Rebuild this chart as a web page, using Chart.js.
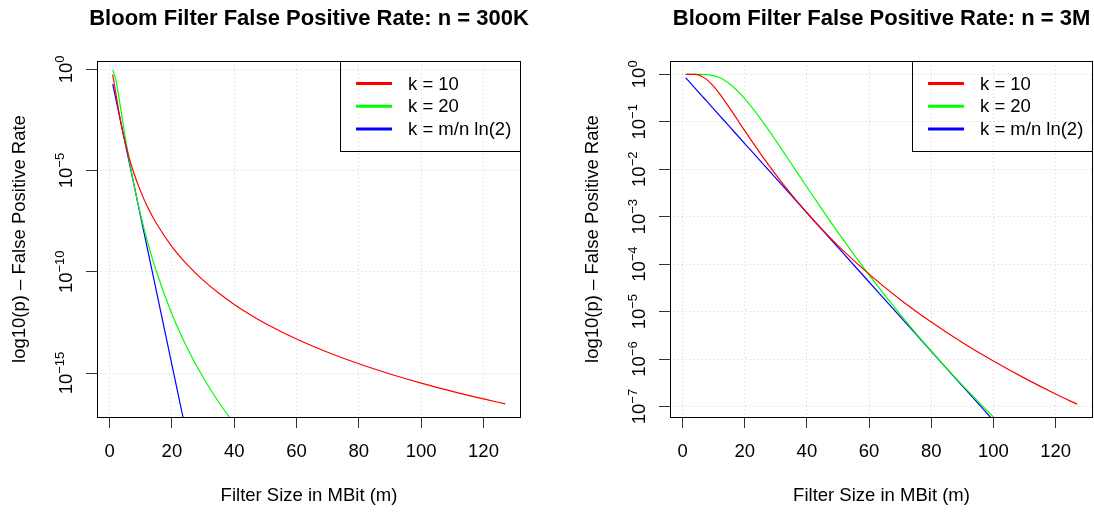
<!DOCTYPE html>
<html>
<head>
<meta charset="utf-8">
<script src="https://cdn.jsdelivr.net/npm/chart.js@4.4.1/dist/chart.umd.min.js"></script>
<style>
html, body { margin: 0; padding: 0; background: #fff; }
#wrap { position: relative; width: 1094px; height: 512px; }
canvas { position: absolute; top: 0; }
#left { left: 0; }
#right { left: 547px; }
</style>
</head>
<body>
<div id="wrap">
  <canvas id="left" width="547" height="512"></canvas>
  <canvas id="right" width="547" height="512"></canvas>
</div>
<script>
// filter size in MBit (m)
var sizes = [1, 2, 3, 4, 5, 6, 8, 10, 12, 15, 20, 25, 30, 35, 40, 45, 50, 60, 70, 80, 90, 100, 110, 120, 127];

// log10(p) for n = 300K
var k10Small  = [-0.256, -1.187, -2.113, -2.917, -3.609, -4.210, -5.219, -6.040, -6.735, -7.603, -8.752, -9.660, -10.412, -11.051, -11.610, -12.104, -12.548, -13.319, -13.974, -14.543, -15.046, -15.497, -15.906, -16.278, -16.521];
var k20Small  = [-0.029, -0.512, -1.396, -2.375, -3.330, -4.226, -5.834, -7.218, -8.420, -9.974, -12.080, -13.782, -15.206, -16.430, -17.504, null, null, null, null, null, null, null, null, null, null];
var kOptSmall = [-0.729, -1.459, -2.188, -2.917, -3.647, -4.376, -5.835, -7.294, -8.752, -10.940, -14.587, -18.234, null, null, null, null, null, null, null, null, null, null, null, null, null];

// log10(p) for n = 3M
var k10Big  = [0, 0, -0.0003, -0.003, -0.014, -0.037, -0.123, -0.256, -0.420, -0.698, -1.187, -1.665, -2.113, -2.530, -2.917, -3.275, -3.609, -4.210, -4.743, -5.219, -5.650, -6.040, -6.401, -6.735, -6.953];
var k20Big  = [0, 0, 0, 0, -0.0001, -0.0006, -0.0068, -0.0285, -0.074, -0.194, -0.512, -0.929, -1.396, -1.884, -2.375, -2.858, -3.330, -4.226, -5.060, -5.834, -6.550, -7.218, -7.839, null, null];
var kOptBig = [-0.073, -0.146, -0.219, -0.292, -0.365, -0.438, -0.583, -0.729, -0.875, -1.094, -1.459, -1.823, -2.188, -2.553, -2.917, -3.282, -3.647, -4.376, -5.105, -5.835, -6.564, -7.294, null, null, null];

var xTicks = [0, 20, 40, 60, 80, 100, 120];
var yTicksSmall = [0, -5, -10, -15];
var yTicksBig = [0, -1, -2, -3, -4, -5, -6, -7];
var seriesNames = ['k = 10', 'k = 20', 'k = m/n ln(2)'];
var seriesColors = ['#ff0000', '#00ff00', '#0000ff'];

var FONT = '"Liberation Sans", Arial, Helvetica, sans-serif';
Chart.defaults.font.family = FONT;
Chart.defaults.color = '#000';

// R style decorations: box, titles, tick labels, legend
var rDecor = {
    id: 'rDecor',
    afterDraw: function (chart) {
        var o = chart.options.plugins.rDecor;
        var ctx = chart.ctx;
        var a = chart.chartArea;
        var xs = chart.scales.x;
        var ys = chart.scales.y;
        var cx = (a.left + a.right) / 2;
        ctx.save();
        ctx.fillStyle = '#000';
        ctx.strokeStyle = '#000';
        ctx.lineWidth = 1;

        // plot box
        ctx.strokeRect(Math.round(a.left) + 0.5, Math.round(a.top) + 0.5,
            Math.round(a.right - a.left) - 1, Math.round(a.bottom - a.top));

        // main title
        ctx.font = 'bold 22px ' + FONT;
        ctx.textAlign = 'center';
        ctx.textBaseline = 'alphabetic';
        ctx.fillText(o.title, cx, 25);

        // x title
        ctx.font = '18.5px ' + FONT;
        ctx.fillText('Filter Size in MBit (m)', cx, 501);

        // x tick labels
        ctx.textBaseline = 'middle';
        xs.ticks.forEach(function (t) {
            ctx.fillText(String(t.value), xs.getPixelForValue(t.value), 452);
        });
        ctx.textBaseline = 'alphabetic';

        // y title
        ctx.save();
        ctx.translate(a.left - 72, (a.top + a.bottom) / 2);
        ctx.rotate(-Math.PI / 2);
        ctx.fillText('log10(p) \u2013 False Positive Rate', 0, 0);
        ctx.restore();

        // y tick labels 10^x
        ys.ticks.forEach(function (t) {
            var y = ys.getPixelForValue(t.value);
            var exp = t.value === 0 ? '0' : '\u2212' + Math.abs(t.value);
            ctx.font = '18.5px ' + FONT;
            var w1 = ctx.measureText('10').width;
            ctx.font = '13px ' + FONT;
            var w2 = ctx.measureText(exp).width;
            ctx.save();
            ctx.translate(a.left - 25, y);
            ctx.rotate(-Math.PI / 2);
            ctx.textAlign = 'left';
            var x0 = -(w1 + w2) / 2;
            ctx.font = '18.5px ' + FONT;
            ctx.fillText('10', x0, 0);
            ctx.font = '13px ' + FONT;
            ctx.fillText(exp, x0 + w1, -8.5);
            ctx.restore();
        });

        // legend
        var bx = Math.round(a.right - 181) + 0.5;
        var by = Math.round(a.top) + 0.5;
        ctx.strokeRect(bx, by, Math.round(a.right) - 1 - bx + 0.5, 90);
        ctx.font = '18.5px ' + FONT;
        ctx.textAlign = 'left';
        ctx.textBaseline = 'middle';
        chart.data.datasets.forEach(function (ds, i) {
            var ly = a.top + 22.6 + i * 22.7;
            ctx.strokeStyle = ds.borderColor;
            ctx.lineWidth = 3;
            ctx.beginPath();
            ctx.moveTo(a.right - 165, ly);
            ctx.lineTo(a.right - 129, ly);
            ctx.stroke();
            ctx.fillText(ds.label, a.right - 113, ly + 1);
        });
        ctx.restore();
    }
};

function makeChart(id, title, series, yTicks, yMin, yMax, pad) {
    var datasets = series.map(function (vals, i) {
        return {
            label: seriesNames[i],
            data: vals,
            borderColor: seriesColors[i],
            borderWidth: 1.2,
            pointRadius: 0,
            fill: false,
            cubicInterpolationMode: 'monotone',
            spanGaps: false,
            clip: 0
        };
    });
    return new Chart(document.getElementById(id), {
        type: 'line',
        data: { labels: sizes, datasets: datasets },
        options: {
            responsive: false,
            animation: false,
            events: [],
            layout: { padding: pad },
            plugins: {
                legend: { display: false },
                tooltip: { enabled: false },
                title: { display: false },
                rDecor: { title: title }
            },
            scales: {
                x: {
                    type: 'linear',
                    min: -4.04,
                    max: 132.04,
                    bounds: 'data',
                    afterBuildTicks: function (s) {
                        s.ticks = xTicks.map(function (v) { return { value: v }; });
                    },
                    afterFit: function (s) {
                        s.height = 0;
                        s.paddingLeft = 0;
                        s.paddingRight = 0;
                    },
                    ticks: { display: false },
                    grid: {
                        color: '#d3d3d3',
                        lineWidth: 1,
                        tickLength: 11,
                        tickColor: '#333',
                        tickBorderDash: []
                    },
                    border: { display: false, dash: [1, 3] }
                },
                y: {
                    type: 'linear',
                    min: yMin,
                    max: yMax,
                    bounds: 'data',
                    afterBuildTicks: function (s) {
                        s.ticks = yTicks.map(function (v) { return { value: v }; });
                    },
                    afterFit: function (s) {
                        s.width = 0;
                        s.paddingTop = 0;
                        s.paddingBottom = 0;
                    },
                    ticks: { display: false },
                    grid: {
                        color: '#d3d3d3',
                        lineWidth: 1,
                        tickLength: 11,
                        tickColor: '#333',
                        tickBorderDash: []
                    },
                    border: { display: false, dash: [1, 3] }
                }
            }
        },
        plugins: [rDecor]
    });
}

makeChart('left', 'Bloom Filter False Positive Rate: n = 300K',
    [k10Small, k20Small, kOptSmall], yTicksSmall, -17.17, 0.41,
    { left: 97, right: 26, top: 61, bottom: 95 });

makeChart('right', 'Bloom Filter False Positive Rate: n = 3M',
    [k10Big, k20Big, kOptBig], yTicksBig, -7.22, 0.28,
    { left: 123, right: 1, top: 61, bottom: 95 });
</script>
</body>
</html>
